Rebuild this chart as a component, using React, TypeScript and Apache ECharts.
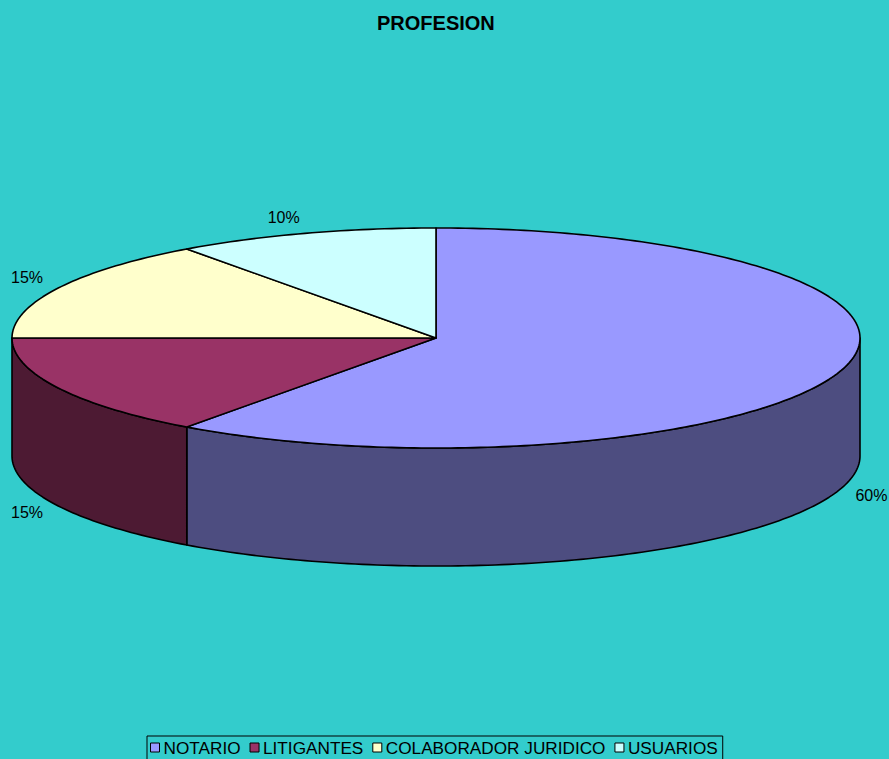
import React, { useEffect, useRef } from "react";
import * as echarts from "echarts";

const categories = ["NOTARIO", "LITIGANTES", "COLABORADOR JURIDICO", "USUARIOS"];
const values = [60, 15, 15, 10];
const labels = ["60%", "15%", "15%", "10%"];
const topColors = ["#9999FF", "#993366", "#FFFFCC", "#CCFFFF"];
const sideColors = ["#4D4D80", "#4D1A33", "#80806A", "#6A8080"];

const CX = 436;
const CY = 338;
const RX = 424;
const RY = 110;
const DEPTH = 118;

const total = values.reduce((a, b) => a + b, 0);
const starts: number[] = [];
{
  let acc = 0;
  for (const v of values) {
    starts.push((acc / total) * 360);
    acc += v;
  }
}

const rad = (d: number) => (d * Math.PI) / 180;
const ptAt = (deg: number, dy = 0): [number, number] => [
  CX + RX * Math.sin(rad(deg)),
  CY - RY * Math.cos(rad(deg)) + dy,
];

function arcPoints(a0: number, a1: number, dy = 0): [number, number][] {
  const pts: [number, number][] = [];
  const n = Math.max(2, Math.ceil(Math.abs(a1 - a0)));
  for (let i = 0; i <= n; i++) pts.push(ptAt(a0 + ((a1 - a0) * i) / n, dy));
  return pts;
}

function makeRender(idx: number) {
  return (params: any, api: any) => {
    const v = api.value(0);
    const a0 = starts[idx];
    const a1 = a0 + (v / total) * 360;
    const children: any[] = [];
    const s0 = Math.max(a0, 90);
    const s1 = Math.min(a1, 270);
    if (s1 > s0) {
      const topArc = arcPoints(s0, s1);
      const botArc = arcPoints(s1, s0, DEPTH);
      children.push({
        type: "polygon",
        shape: { points: [...topArc, ...botArc] },
        style: { fill: sideColors[idx], stroke: "#000", lineWidth: 1.6, lineJoin: "round" },
      });
    }
    children.push({
      type: "polygon",
      shape: { points: [[CX, CY], ...arcPoints(a0, a1)] },
      style: { fill: topColors[idx], stroke: "#000", lineWidth: 1.6, lineJoin: "round" },
    });
    const mid = (a0 + a1) / 2;
    const s = Math.sin(rad(mid));
    const c = Math.cos(rad(mid));
    const lx = CX + (RX + 17) * s + Math.sign(s) * 16;
    const ly = CY - (RY + 10) * c - Math.sign(c) * 6 + (c < 0 ? 114 : 0);
    children.push({
      type: "text",
      style: {
        text: labels[idx],
        x: lx,
        y: ly,
        align: "center",
        verticalAlign: "middle",
        fill: "#000",
        font: "16px 'Liberation Sans', Arial, sans-serif",
      },
    });
    return { type: "group", children };
  };
}

export default function App() {
  const ref = useRef<HTMLDivElement>(null);
  useEffect(() => {
    if (!ref.current) return;
    const chart = echarts.init(ref.current, undefined, { renderer: "svg" });
    chart.setOption({
      animation: false,
      backgroundColor: "#33CCCC",
      title: {
        text: "PROFESION",
        left: 377,
        top: 13,
        textStyle: {
          fontFamily: "'Liberation Sans', Arial, sans-serif",
          fontWeight: "bold",
          fontSize: 20,
          color: "#000",
        },
        padding: 0,
      },
      legend: {
        data: categories,
        left: 147,
        top: 736,
        icon: "rect",
        itemWidth: 9,
        itemHeight: 9,
        itemGap: 9,
        padding: [3, 5, 6, 3],
        borderColor: "#000",
        borderWidth: 1,
        selectedMode: false,
        itemStyle: { borderColor: "#000", borderWidth: 1 },
        textStyle: {
          fontFamily: "'Liberation Sans', Arial, sans-serif",
          fontSize: 17.2,
          color: "#000",
          padding: [0, 0, 0, -1],
        },
      },
      series: categories.map((name, i) => ({
        type: "custom",
        name,
        coordinateSystem: "none",
        itemStyle: { color: topColors[i] },
        data: [values[i]],
        renderItem: makeRender(i),
      })),
    });
    return () => chart.dispose();
  }, []);
  return (
    <div
      ref={ref}
      style={{ position: "absolute", left: 0, top: 0, width: 889, height: 759 }}
    />
  );
}
